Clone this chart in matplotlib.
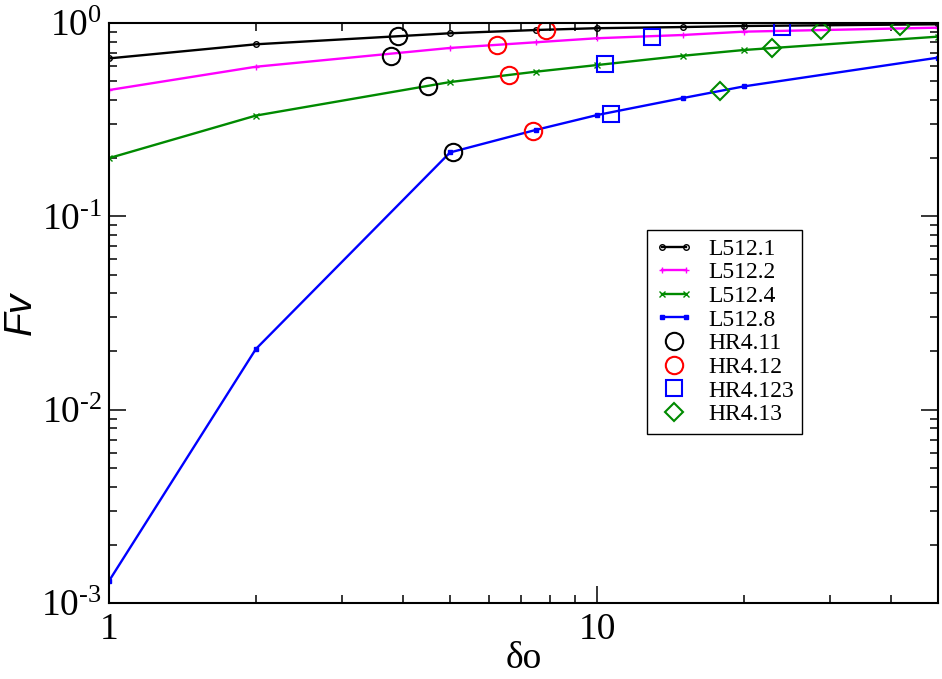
import math
import matplotlib
matplotlib.use("Agg")
import matplotlib.pyplot as plt
from matplotlib.ticker import LogLocator, FuncFormatter, NullFormatter
from matplotlib.legend_handler import HandlerLine2D

plt.rcParams['font.family'] = ['Liberation Serif', 'DejaVu Serif']
plt.rcParams['mathtext.fontset'] = 'custom'
plt.rcParams['mathtext.rm'] = 'Liberation Serif'
plt.rcParams['mathtext.default'] = 'regular'

# data
delta = [1, 2, 5, 7.5, 10, 15, 20, 50]
L512_1 = [0.656, 0.776, 0.885, 0.92, 0.94, 0.953, 0.965, 0.985]
L512_2 = [0.45, 0.594, 0.743, 0.795, 0.834, 0.867, 0.902, 0.946]
L512_4 = [0.2, 0.332, 0.495, 0.56, 0.606, 0.677, 0.725, 0.85]
L512_8 = [0.0013, 0.0206, 0.214, 0.28, 0.334, 0.409, 0.47, 0.662]

HR4_11_x = [3.91, 3.79, 4.5, 5.08]
HR4_11_y = [0.86, 0.677, 0.472, 0.214]
HR4_12_x = [7.85, 6.25, 6.59, 7.39]
HR4_12_y = [0.92, 0.77, 0.536, 0.276]
HR4_123_x = [23.9, 12.97, 10.37, 10.7]
HR4_123_y = [0.953, 0.843, 0.614, 0.34]
HR4_13_x = [41.8, 28.8, 22.8, 17.9]
HR4_13_y = [0.969, 0.917, 0.742, 0.445]

fig = plt.figure(figsize=(9.42, 6.79), dpi=100)
ax = fig.add_axes([109/942, 1-603/679, (938-109)/942, (603-23)/679])

lw = 1.7
lines = []
lines += ax.plot(delta, L512_1, '-', color='black', lw=lw, marker='o', ms=4, mfc='none', mew=1, label='L512.1')
lines += ax.plot(delta, L512_2, '-', color='#ff00ff', lw=lw, marker='+', ms=5, mew=1, label='L512.2')
lines += ax.plot(delta, L512_4, '-', color='#008a00', lw=lw, marker='x', ms=4, mew=1, label='L512.4')
lines += ax.plot(delta, L512_8, '-', color='#0000ff', lw=lw, marker='s', ms=3.5, mew=1, label='L512.8')

hr = []
hr += ax.plot(HR4_11_x, HR4_11_y, 'o', ls='none', ms=12.5, mfc='none', mec='black', mew=1.5, label='HR4.11')
hr += ax.plot(HR4_12_x, HR4_12_y, 'o', ls='none', ms=12.5, mfc='none', mec='#ff0000', mew=1.5, label='HR4.12')
hr += ax.plot(HR4_123_x, HR4_123_y, 's', ls='none', ms=11, mfc='none', mec='#0000ff', mew=1.5, label='HR4.123')
hr += ax.plot(HR4_13_x, HR4_13_y, 'D', ls='none', ms=9, mfc='none', mec='#008a00', mew=1.5, label='HR4.13')

ax.set_xscale('log')
ax.set_yscale('log')
ax.set_xlim(1, 50)
ax.set_ylim(1e-3, 1)

ax.xaxis.set_major_locator(LogLocator(base=10, numticks=10))
ax.xaxis.set_minor_locator(LogLocator(base=10, subs=range(2, 10), numticks=20))
ax.xaxis.set_major_formatter(FuncFormatter(lambda v, p: '%d' % round(v)))
ax.xaxis.set_minor_formatter(NullFormatter())
ax.yaxis.set_major_locator(LogLocator(base=10, numticks=10))
ax.yaxis.set_minor_locator(LogLocator(base=10, subs=range(2, 10), numticks=20))


def yfmt(v, p):
    e = int(round(math.log10(v)))
    if e < 0:
        return r'$10^{\text{-}%d}$' % (-e)
    return r'$10^{%d}$' % e


ax.yaxis.set_major_formatter(FuncFormatter(yfmt))
ax.yaxis.set_minor_formatter(NullFormatter())

ax.tick_params(which='both', direction='in', top=True, right=True, width=1.1, colors='black')
ax.tick_params(which='major', length=12, labelsize=27)
ax.tick_params(axis='x', which='major', pad=7)
ax.tick_params(axis='y', which='major', pad=5)
ax.tick_params(which='minor', length=6)
for s in ax.spines.values():
    s.set_linewidth(1.5)

ax.set_xlabel('δo', fontsize=27, labelpad=-4)
ax.set_ylabel('Fv', fontsize=28, family=['Liberation Sans', 'DejaVu Sans'], style='italic')
ax.yaxis.set_label_coords((21 - 109) / 829, 0.5)
ax.yaxis.label.set_va('center')

hmap = {h: HandlerLine2D(numpoints=1) for h in hr}
leg = ax.legend(handles=lines + hr, loc='upper left', bbox_to_anchor=(647/942, 1-230/679),
                bbox_transform=fig.transFigure, handler_map=hmap,
                fontsize=17, frameon=True, fancybox=False, edgecolor='black', framealpha=1,
                numpoints=2, handlelength=1.6, labelspacing=0.09, borderpad=0.35, handletextpad=0.65,
                borderaxespad=0)
leg.get_frame().set_linewidth(1.0)

fig.savefig('out.png', dpi=100)
